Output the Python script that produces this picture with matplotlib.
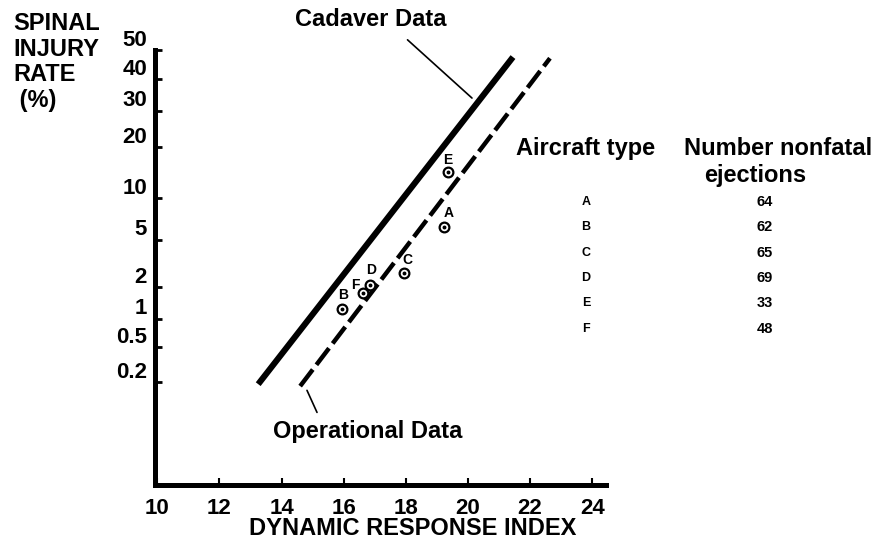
import numpy as np
import matplotlib
matplotlib.use("Agg")
import matplotlib.pyplot as plt
import matplotlib.transforms as mtransforms
from statistics import NormalDist

plt.rcParams['font.family'] = ['Liberation Sans', 'DejaVu Sans']
plt.rcParams['font.weight'] = 'bold'
plt.rcParams['lines.scale_dashes'] = False

# fitted lines (end points)
cadaver_dri = [13.25, 21.45]
cadaver_rate = [0.19, 47.6]
operational_dri = [14.6, 22.64]
operational_rate = [0.18, 47.2]

# aircraft points
aircraft = ['A', 'B', 'C', 'D', 'E', 'F']
aircraft_dri = [19.23, 15.95, 17.95, 16.85, 19.36, 16.63]
aircraft_rate = [6.3, 1.25, 2.7, 2.1, 14.5, 1.77]
ejections = [64, 62, 65, 69, 33, 48]

x_ticks = [10, 12, 14, 16, 18, 20, 22, 24]
y_ticks = [0.2, 0.5, 1, 2, 5, 10, 20, 30, 40, 50]
y_ticklabels = ['0.2', '0.5', '1', '2', '5', '10', '20', '30', '40', '50']

# label offsets (points) for the aircraft letters
letter_offsets = {'A': (3, 10), 'B': (1, 10), 'C': (2, 9),
                  'D': (1, 11), 'E': (0, 9), 'F': (-6, 6)}

_nd = NormalDist()


def probit(p):
    p = np.clip(np.asarray(p, dtype=float) / 100.0, 1e-9, 1 - 1e-9)
    return np.vectorize(_nd.inv_cdf, otypes=[float])(p)


def inv_probit(z):
    z = np.asarray(z, dtype=float)
    return np.vectorize(_nd.cdf, otypes=[float])(z) * 100.0


fig = plt.figure(figsize=(8.76, 5.39), dpi=100)
ax = fig.add_axes([0.177, 0.100, 0.515, 0.807])
ax.set_yscale('function', functions=(probit, inv_probit))
ax.set_xlim(9.93, 24.45)
ax.set_ylim(0.0082, 50)

for s in ['top', 'right']:
    ax.spines[s].set_visible(False)
for s in ['left', 'bottom']:
    ax.spines[s].set_linewidth(3.6)
    ax.spines[s].set_capstyle('projecting')

ax.set_xticks(x_ticks)
ax.set_xticklabels([str(t) for t in x_ticks], fontsize=16, fontweight='bold')
ax.tick_params(axis='x', direction='in', length=5, width=1.5, pad=9)
ax.set_yticks(y_ticks)
ax.set_yticklabels([])
ax.yaxis.set_minor_locator(matplotlib.ticker.NullLocator())
ax.tick_params(axis='y', direction='in', length=5, width=2)

# y tick labels sit a little above their ticks
off = mtransforms.ScaledTranslation(-0.08, 0.10, fig.dpi_scale_trans)
for v, lab in zip(y_ticks, y_ticklabels):
    ax.text(0, v, lab, transform=ax.get_yaxis_transform() + off,
            ha='right', va='center', fontsize=16, fontweight='bold')

ax.plot(cadaver_dri, cadaver_rate, color='black', lw=4.4,
        solid_capstyle='butt')
ax.plot(operational_dri, operational_rate, color='black', lw=3.2,
        dashes=(15, 4.3), dash_capstyle='butt')

ax.plot(aircraft_dri, aircraft_rate, 'o', ms=7, mfc='white', mec='black',
        mew=1.6, clip_on=False)
ax.plot(aircraft_dri, aircraft_rate, 'o', ms=1.8, color='black',
        clip_on=False)
for name, x, y in zip(aircraft, aircraft_dri, aircraft_rate):
    ax.annotate(name, (x, y), xytext=letter_offsets[name],
                textcoords='offset points', ha='center', va='center',
                fontsize=10, fontweight='bold')

# leader-line annotations
ax.annotate('Cadaver Data', xy=(20.13, 33.9), xytext=(0.4235, 0.963),
            textcoords='figure fraction', ha='center', va='center',
            fontsize=17, fontweight='bold', annotation_clip=False,
            arrowprops=dict(arrowstyle='-', lw=1.2, color='black',
                            shrinkA=6, shrinkB=0,
                            relpos=(0.68, 0.0)))
ax.annotate('Operational Data', xy=(14.82, 0.16), xytext=(0.42, 0.199),
            textcoords='figure fraction', ha='center', va='center',
            fontsize=17, fontweight='bold', annotation_clip=False,
            arrowprops=dict(arrowstyle='-', lw=1.2, color='black',
                            shrinkA=4, shrinkB=0,
                            relpos=(0.25, 1.0)))

# axis titles
fig.text(0.015, 0.978, 'SPINAL\nINJURY\nRATE\n (%)', ha='left', va='top',
         fontsize=17, fontweight='bold', linespacing=1.15)
fig.text(0.471, 0.020, 'DYNAMIC RESPONSE INDEX', ha='center', va='center',
         fontsize=17, fontweight='bold')

# table of aircraft
fig.text(0.668, 0.725, 'Aircraft type', ha='center', va='center',
         fontsize=17, fontweight='bold')
fig.text(0.888, 0.725, 'Number nonfatal', ha='center', va='center',
         fontsize=17, fontweight='bold')
fig.text(0.862, 0.675, 'ejections', ha='center', va='center',
         fontsize=17, fontweight='bold')
row_y = np.linspace(0.625, 0.390, len(aircraft))
for name, n, yy in zip(aircraft, ejections, row_y):
    fig.text(0.669, yy, name, ha='center', va='center', fontsize=9,
             fontweight='heavy')
    fig.text(0.873, yy, str(n), ha='center', va='center', fontsize=10.5,
             fontweight='heavy')

fig.savefig('out.png', dpi=100)
